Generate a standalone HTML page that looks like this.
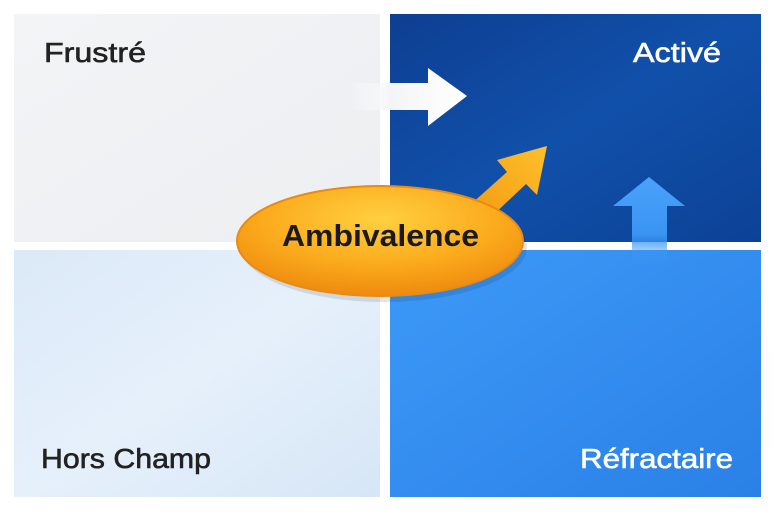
<!DOCTYPE html>
<html><head><meta charset="utf-8"><style>
html,body{margin:0;padding:0;background:#fff;}
svg{display:block;}
text{font-family:"Liberation Sans",sans-serif;}
</style></head><body>
<svg width="775" height="517" viewBox="0 0 775 517" xmlns="http://www.w3.org/2000/svg">
<defs>
<linearGradient id="tl" x1="0" y1="0" x2="1" y2="1"><stop offset="0" stop-color="#f3f4f6"/><stop offset="1" stop-color="#eceef1"/></linearGradient>
<linearGradient id="tr" x1="0" y1="0" x2="1" y2="1"><stop offset="0" stop-color="#0d3f92"/><stop offset="0.5" stop-color="#1150aa"/><stop offset="1" stop-color="#0c4296"/></linearGradient>
<linearGradient id="bl" x1="0" y1="0" x2="1" y2="1"><stop offset="0" stop-color="#dbe9f8"/><stop offset="0.5" stop-color="#e6f0fb"/><stop offset="1" stop-color="#d6e6f6"/></linearGradient>
<linearGradient id="br" x1="0" y1="0" x2="1" y2="1"><stop offset="0" stop-color="#3d9af8"/><stop offset="1" stop-color="#2a80e6"/></linearGradient>
<radialGradient id="ell" cx="0.5" cy="0.3" r="0.7"><stop offset="0" stop-color="#ffd040"/><stop offset="0.6" stop-color="#fbaa1c"/><stop offset="1" stop-color="#ee8a10"/></radialGradient>
<linearGradient id="wa" x1="0" y1="0" x2="1" y2="0"><stop offset="0" stop-color="#ffffff" stop-opacity="0"/><stop offset="0.35" stop-color="#f4f5f7"/><stop offset="1" stop-color="#ffffff"/></linearGradient>
<linearGradient id="ba" x1="0" y1="1" x2="0" y2="0"><stop offset="0" stop-color="#3d9af8" stop-opacity="0"/><stop offset="0.35" stop-color="#3a94f2"/><stop offset="1" stop-color="#4aa2fa"/></linearGradient>
<linearGradient id="oa" x1="0" y1="1" x2="1" y2="0"><stop offset="0" stop-color="#f39a14"/><stop offset="1" stop-color="#ffc02a"/></linearGradient>
</defs>
<rect x="14" y="14" width="366" height="228" fill="url(#tl)"/>
<rect x="390" y="14" width="371" height="228" fill="url(#tr)"/>
<rect x="14" y="250" width="366" height="247" fill="url(#bl)"/>
<rect x="390" y="250" width="371" height="247" fill="url(#br)"/>
<polygon points="350,83 428,83 428,68 467,96 428,126 428,110 350,110" fill="url(#wa)"/>
<polygon points="632,265 632,206 613,206 649,177 685,206 667,206 667,265" fill="url(#ba)"/>
<polygon points="470,205 507,172 497,160 547,146 537,195 526,184 490,218" fill="url(#oa)"/>
<ellipse cx="382" cy="244" rx="143" ry="55" fill="#000" opacity="0.1" transform="translate(2,3)"/>
<ellipse cx="380" cy="241" rx="143" ry="55" fill="url(#ell)" stroke="#e98a12" stroke-width="2"/>
<text x="282" y="246" font-size="31" font-weight="bold" fill="#1a1a1a" textLength="197" lengthAdjust="spacingAndGlyphs">Ambivalence</text>
<g stroke-width="0.6">
<text x="44" y="62" font-size="28" fill="#222" stroke="#222" textLength="102" lengthAdjust="spacingAndGlyphs">Frustré</text>
<text x="633" y="62" font-size="28" fill="#fff" stroke="#fff" textLength="88" lengthAdjust="spacingAndGlyphs">Activé</text>
<text x="41" y="468" font-size="28" fill="#222" stroke="#222" textLength="170" lengthAdjust="spacingAndGlyphs">Hors Champ</text>
<text x="580" y="468" font-size="28" fill="#fff" stroke="#fff" textLength="153" lengthAdjust="spacingAndGlyphs">Réfractaire</text>
</g>
</svg>
</body></html>
